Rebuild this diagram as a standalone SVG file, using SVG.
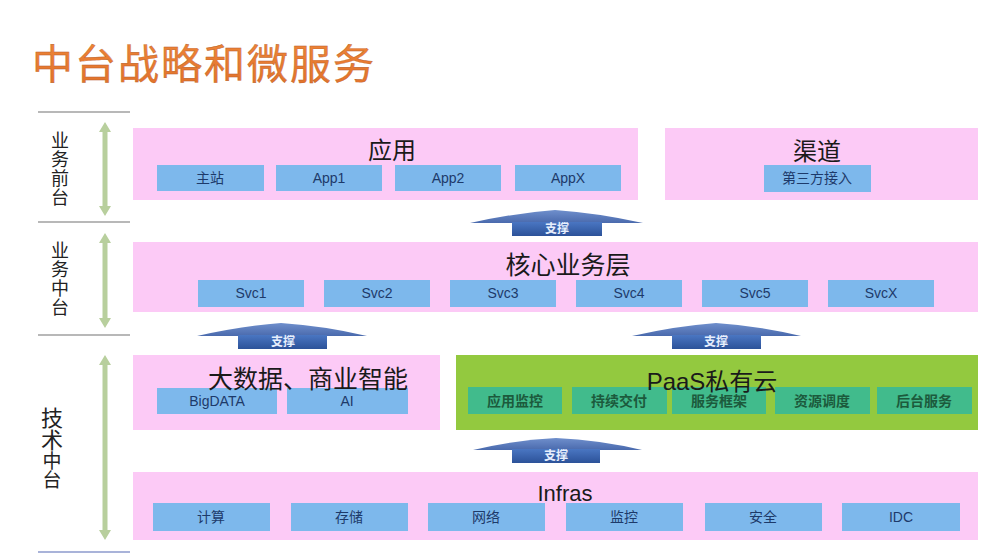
<svg xmlns="http://www.w3.org/2000/svg" width="1000" height="553" viewBox="0 0 1000 553">
<defs>
<style>
.pink{fill:#fccaf6}
.blue{fill:#7db8ec}
.green{fill:#93c93f}
.teal{fill:#41bb8c}
.ttl{font-family:"Liberation Sans","Noto Sans CJK SC",sans-serif;fill:#1a1a1a;text-anchor:middle}
.lbl{font-family:"Liberation Sans","Noto Sans CJK SC",sans-serif;font-size:14px;fill:#1d3a6a;text-anchor:middle}
.tlbl{font-family:"Liberation Sans","Noto Sans CJK SC",sans-serif;font-size:14px;fill:#1c5a3c;text-anchor:middle;font-weight:bold}
.side{font-family:"Noto Sans CJK SC",sans-serif;fill:#222;writing-mode:vertical-rl}
.sep{stroke:#a0a0a0;stroke-width:1.5}
.garrow{fill:#b8cf9d}
.sup{font-family:"Noto Sans CJK SC",sans-serif;font-size:12px;fill:#e6eefc;text-anchor:middle;font-weight:bold}
</style>
<linearGradient id="head" x1="0" y1="0" x2="0" y2="1">
<stop offset="0" stop-color="#6f8fcc"/>
<stop offset="1" stop-color="#4a6aad"/>
</linearGradient>
<linearGradient id="stem" x1="0" y1="0" x2="0" y2="1">
<stop offset="0" stop-color="#4a76c2"/>
<stop offset="1" stop-color="#2c5299"/>
</linearGradient>
<linearGradient id="title" x1="0" y1="0" x2="0" y2="1">
<stop offset="0" stop-color="#f0883a"/>
<stop offset="1" stop-color="#e0702a"/>
</linearGradient>
</defs>
<rect width="1000" height="553" fill="#ffffff"/>

<g id="title-text">
<text x="32" y="79" font-family="Noto Sans CJK SC, sans-serif" font-size="41" fill="url(#title)" stroke="#b8602a" stroke-width="0.4" letter-spacing="2">中台战略和微服务</text>
</g>

<g id="side-labels">
<line class="sep" x1="38" y1="112" x2="130" y2="112"/>
<line class="sep" x1="38" y1="222" x2="130" y2="222"/>
<line class="sep" x1="38" y1="335" x2="130" y2="335"/>
<line x1="38" y1="552" x2="130" y2="552" stroke="#a9b3d9" stroke-width="2"/>
<text class="side" x="60" y="131" font-size="18" letter-spacing="1">业务前台</text>
<text class="side" x="60" y="241" font-size="18" letter-spacing="1">业务中台</text>
<text class="side" x="52" y="407"><tspan font-size="22">技术</tspan><tspan font-size="19" dx="0">中台</tspan></text>
</g>

<g id="node-app">
<rect class="pink" x="133" y="128" width="505" height="72"/>
<text class="ttl" x="392" y="159" font-size="24">应用</text>
<rect class="blue" x="157" y="165" width="107" height="26"/><text class="lbl" x="210" y="183">主站</text>
<rect class="blue" x="276" y="165" width="106" height="26"/><text class="lbl" x="329" y="183">App1</text>
<rect class="blue" x="395" y="165" width="106" height="26"/><text class="lbl" x="448" y="183">App2</text>
<rect class="blue" x="515" y="165" width="106" height="26"/><text class="lbl" x="568" y="183">AppX</text>
</g>

<g id="node-channel">
<rect class="pink" x="665" y="128" width="313" height="72"/>
<text class="ttl" x="817" y="160" font-size="24">渠道</text>
<rect class="blue" x="764" y="165" width="107" height="27"/><text class="lbl" x="817" y="183">第三方接入</text>
</g>

<g id="node-core">
<rect class="pink" x="133" y="242" width="845" height="70"/>
<text class="ttl" x="568" y="274" font-size="25">核心业务层</text>
<rect class="blue" x="198" y="280" width="106" height="27"/><text class="lbl" x="251" y="298">Svc1</text>
<rect class="blue" x="324" y="280" width="106" height="27"/><text class="lbl" x="377" y="298">Svc2</text>
<rect class="blue" x="450" y="280" width="106" height="27"/><text class="lbl" x="503" y="298">Svc3</text>
<rect class="blue" x="576" y="280" width="106" height="27"/><text class="lbl" x="629" y="298">Svc4</text>
<rect class="blue" x="702" y="280" width="106" height="27"/><text class="lbl" x="755" y="298">Svc5</text>
<rect class="blue" x="828" y="280" width="106" height="27"/><text class="lbl" x="881" y="298">SvcX</text>
</g>

<g id="node-bigdata">
<rect class="pink" x="133" y="355" width="307" height="75"/>
<rect class="blue" x="157" y="388" width="120" height="26"/><text class="lbl" x="217" y="406">BigDATA</text>
<rect class="blue" x="287" y="388" width="121" height="26"/><text class="lbl" x="347" y="406">AI</text>
<text class="ttl" x="308" y="388" font-size="25">大数据、商业智能</text>
</g>

<g id="node-paas">
<rect class="green" x="456" y="355" width="522" height="75"/>
<rect class="teal" x="468" y="387" width="94" height="27"/><text class="tlbl" x="515" y="406">应用监控</text>
<rect class="teal" x="572" y="387" width="95" height="27"/><text class="tlbl" x="619" y="406">持续交付</text>
<rect class="teal" x="672" y="387" width="94" height="27"/><text class="tlbl" x="719" y="406">服务框架</text>
<rect class="teal" x="775" y="387" width="95" height="27"/><text class="tlbl" x="822" y="406">资源调度</text>
<rect class="teal" x="877" y="387" width="95" height="27"/><text class="tlbl" x="924" y="406">后台服务</text>
<text class="ttl" x="712" y="390" font-size="24" fill="#1a2a10">PaaS私有云</text>
</g>

<g id="node-infras">
<rect class="pink" x="133" y="472" width="845" height="68"/>
<text class="ttl" x="565" y="501" font-size="22">Infras</text>
<rect class="blue" x="153" y="503" width="117" height="28"/><text class="lbl" x="211" y="522">计算</text>
<rect class="blue" x="291" y="503" width="117" height="28"/><text class="lbl" x="349" y="522">存储</text>
<rect class="blue" x="428" y="503" width="117" height="28"/><text class="lbl" x="486" y="522">网络</text>
<rect class="blue" x="566" y="503" width="117" height="28"/><text class="lbl" x="624" y="522">监控</text>
<rect class="blue" x="705" y="503" width="117" height="28"/><text class="lbl" x="763" y="522">安全</text>
<rect class="blue" x="842" y="503" width="118" height="28"/><text class="lbl" x="901" y="522">IDC</text>
</g>

<g id="connectors">
<path class="garrow" d="M105,122 L111,132 L107.5,132 L107.5,206 L111,206 L105,216 L99,206 L102.5,206 L102.5,132 L99,132 Z"/>
<path class="garrow" d="M105,233 L111,243 L107.5,243 L107.5,318 L111,318 L105,328 L99,318 L102.5,318 L102.5,243 L99,243 Z"/>
<path class="garrow" d="M105,355 L111,365 L107.5,365 L107.5,530 L111,530 L105,540 L99,530 L102.5,530 L102.5,365 L99,365 Z"/>

<g id="support-1">
<path d="M470,223 Q515,213 555,210 Q598,213 643,223 Z" fill="url(#head)"/>
<rect x="512" y="222" width="90" height="14" fill="url(#stem)"/>
<text class="sup" x="557" y="233">支撑</text>
</g>
<g id="support-2">
<path d="M197,336 Q242,326 281,323 Q325,326 367,336 Z" fill="url(#head)"/>
<rect x="238" y="335" width="89" height="14" fill="url(#stem)"/>
<text class="sup" x="283" y="346">支撑</text>
</g>
<g id="support-3">
<path d="M632,336 Q676,326 716,323 Q760,326 801,336 Z" fill="url(#head)"/>
<rect x="672" y="335" width="89" height="14" fill="url(#stem)"/>
<text class="sup" x="716" y="346">支撑</text>
</g>
<g id="support-4">
<path d="M473,450 Q516,440 556,438 Q600,440 642,450 Z" fill="url(#head)"/>
<rect x="512" y="449" width="88" height="14" fill="url(#stem)"/>
<text class="sup" x="556" y="460">支撑</text>
</g>
</g>
</svg>
